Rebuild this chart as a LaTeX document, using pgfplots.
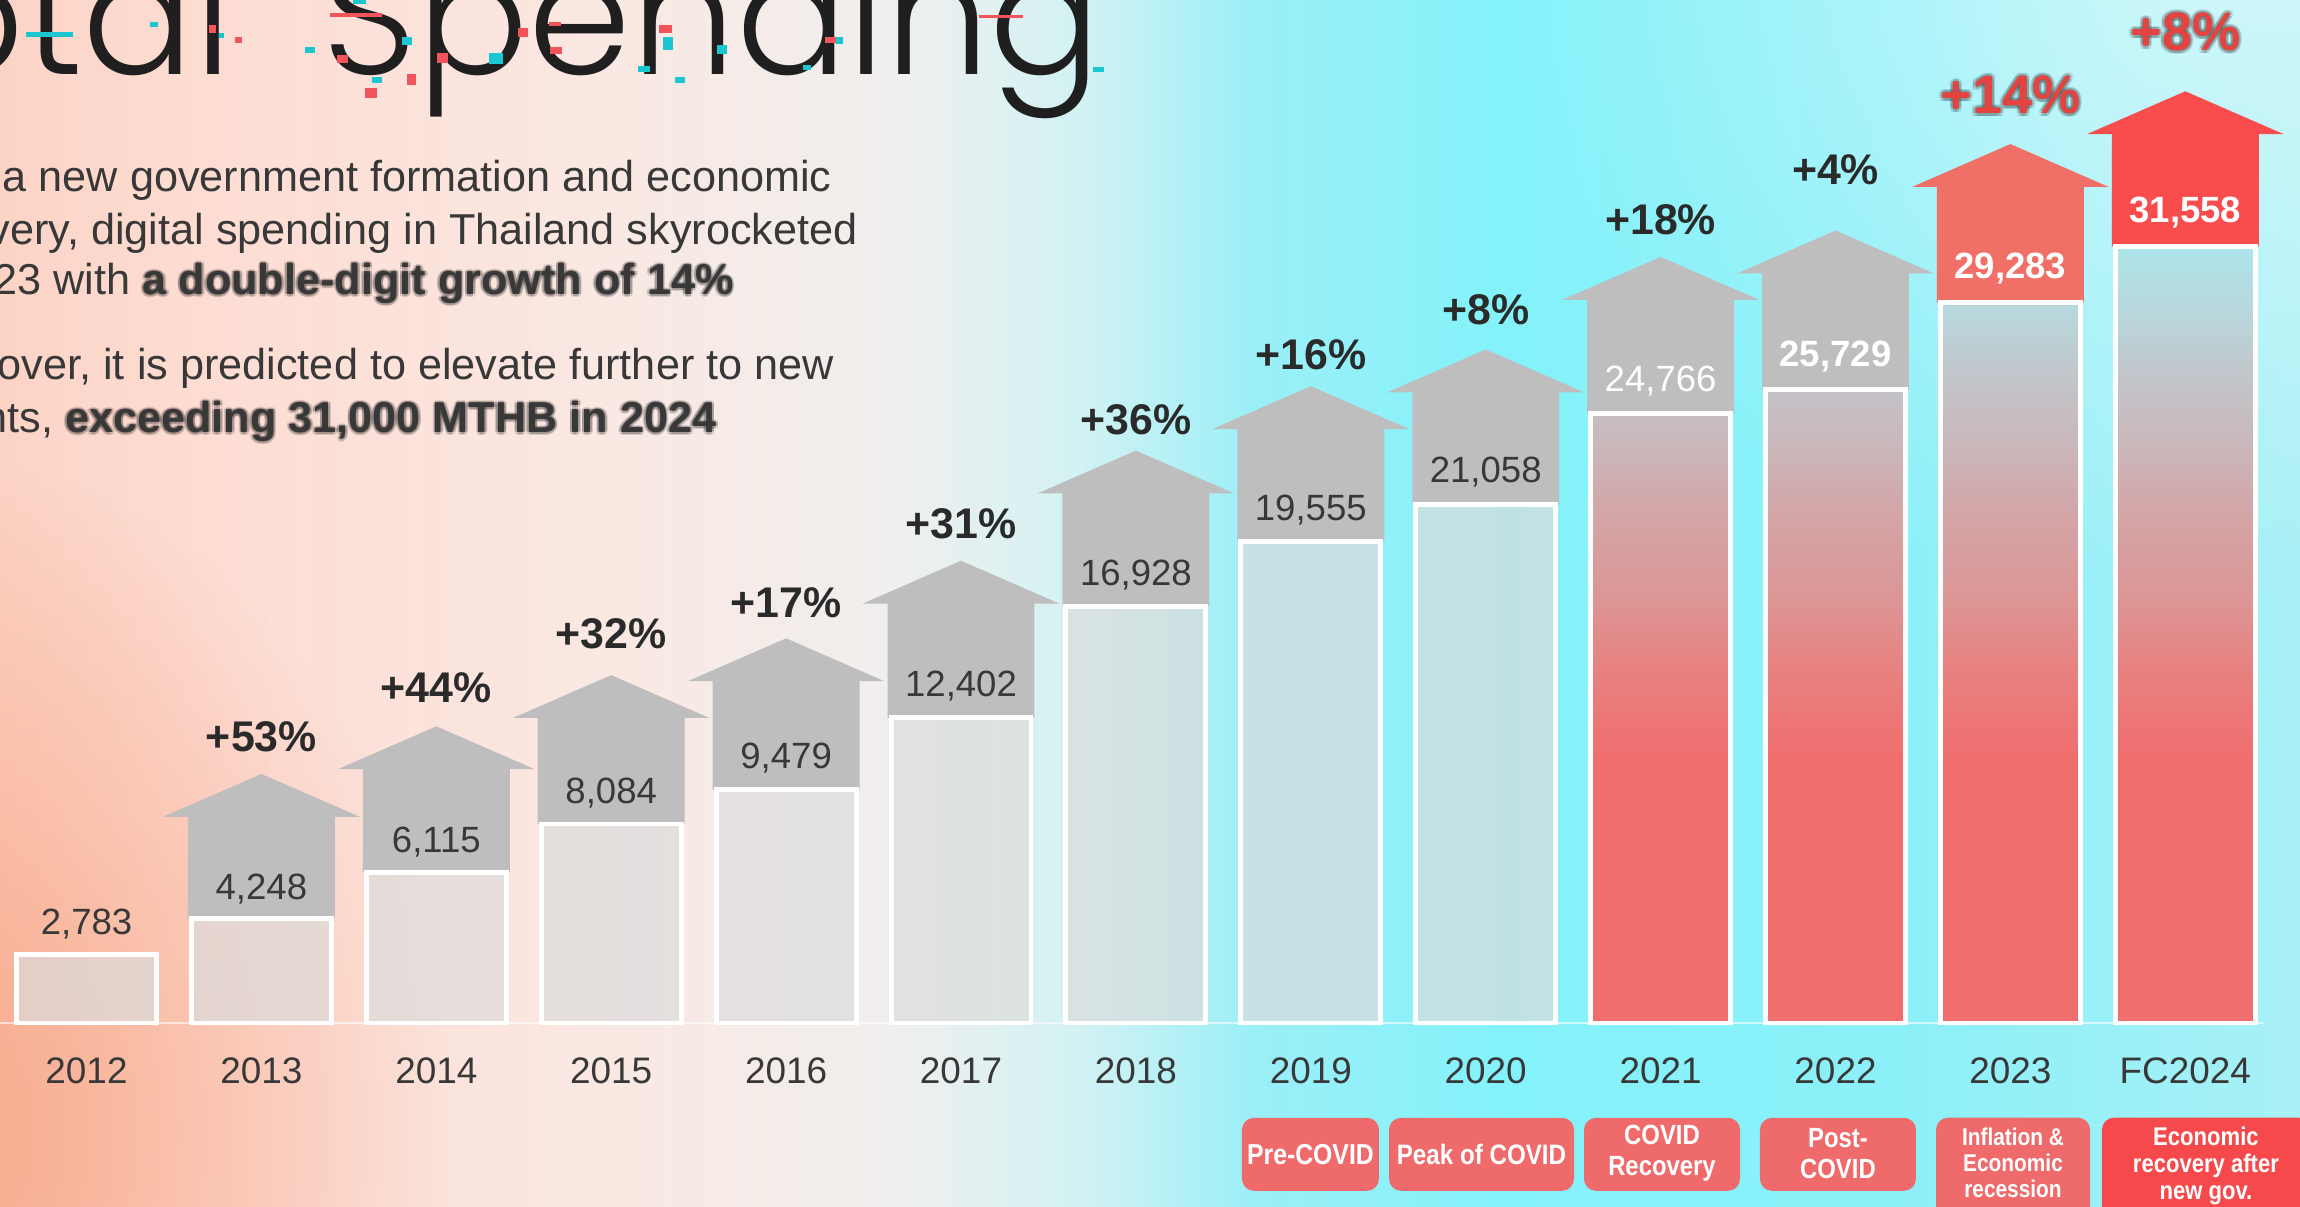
\documentclass[border=0pt]{standalone}
\usepackage{fontspec}
\setmainfont{Liberation Sans}
\newfontfamily\titlefont{Poppins Light}
\newfontfamily\narrowfont{Liberation Sans}[FakeStretch=0.86]
\usepackage{pgfplots}
\pgfplotsset{compat=1.18}
\usetikzlibrary{fadings}

\definecolor{arrowgray}{HTML}{BEBEBE}
\definecolor{arrowred}{HTML}{F07068}
\definecolor{arrowred2}{HTML}{F94C4C}
\definecolor{barfill}{HTML}{DCDCDC}
\definecolor{txt}{HTML}{383838}
\definecolor{pcttxt}{HTML}{2A2A2A}
\definecolor{redpct}{HTML}{E5433F}
\definecolor{boxred}{HTML}{EF6B6B}
\definecolor{boxred2}{HTML}{F5494B}
\definecolor{glitchc}{HTML}{1CC6D0}
\definecolor{glitchr}{HTML}{F2545B}
\definecolor{bgA}{HTML}{FCD4C6}
\definecolor{bgB}{HTML}{FDDED5}
\definecolor{bgC}{HTML}{FAE8E2}
\definecolor{bgD}{HTML}{F0EFEE}
\definecolor{bgE}{HTML}{D2F2F4}
\definecolor{bgF}{HTML}{9CEFF7}
\definecolor{bgG}{HTML}{84F2FA}
\definecolor{bgH}{HTML}{8CF0F8}
\definecolor{bgI}{HTML}{A8F0F6}
\definecolor{bgOr}{HTML}{F7A07E}
\definecolor{rb0}{HTML}{F06E6E}
\definecolor{rb1}{HTML}{E8807F}
\definecolor{rb2}{HTML}{DC9696}
\definecolor{rb3}{HTML}{D4A4A6}
\definecolor{rb4}{HTML}{C9B8BC}
\definecolor{rb5}{HTML}{C3C3C8}
\definecolor{rb6}{HTML}{BAD4D9}
\definecolor{rb7}{HTML}{ADE5EA}

\pgfdeclarehorizontalshading{bgshade}{100bp}{color(0bp)=(bgA); color(25bp)=(bgA); color(30.43bp)=(bgB); color(38bp)=(bgC); color(44.5bp)=(bgD); color(48.5bp)=(bgE); color(52.2bp)=(bgF); color(57.61bp)=(bgG); color(66.3bp)=(bgH); color(75bp)=(bgI); color(100bp)=(bgI)}
\pgfdeclareverticalshading{redbar}{100bp}{color(0bp)=(rb0); color(25bp)=(rb0); color(42bp)=(rb0); color(47.5bp)=(rb1); color(52.5bp)=(rb2); color(57.5bp)=(rb3); color(62.5bp)=(rb4); color(66bp)=(rb5); color(70bp)=(rb6); color(75bp)=(rb7); color(100bp)=(rb7)}
\tikzfading[name=radfade, inner color=transparent!0, outer color=transparent!100]

\tikzset{
  val/.style={font=\fontsize{10.4}{12}\selectfont, text=txt, inner sep=0},
  valw/.style={font=\fontsize{10.4}{12}\selectfont, text=white, inner sep=0},
  valwb/.style={font=\bfseries\fontsize{10.4}{12}\selectfont, text=white, inner sep=0},
  pct/.style={font=\bfseries\fontsize{12.2}{14}\selectfont, text=pcttxt, inner sep=0},
  rpct/.style={font=\bfseries\fontsize{15.4}{17}\selectfont, text=redpct, inner sep=0},
  yr/.style={font=\fontsize{10.5}{12}\selectfont, text=txt, inner sep=0},
  box/.style={rounded corners=1.2mm, inner sep=0, draw=none},
  btxt/.style={text=white, align=center, inner sep=0},
  para/.style={font=\fontsize{12.3}{15}\selectfont, text=txt, inner sep=0, anchor=base west},
  parab/.style={font=\bfseries\fontsize{12.3}{15}\selectfont, text=txt, inner sep=0, anchor=base west},
}

\begin{document}
\begin{tikzpicture}
\path[use as bounding box, clip] (0,0) rectangle (230mm,120.7mm);
% background
\shade[shading=bgshade] (0,0) rectangle (230mm,120.7mm);
\fill[bgOr, path fading=radfade, fill opacity=0.85] (-60mm,-60mm) rectangle (45mm,75mm);
\fill[white, path fading=radfade, fill opacity=0.5] (150mm,60mm) rectangle (290mm,190mm);

\begin{scope}[x=0.1mm, y=-0.1mm, yshift=120.7mm]
  % title
  \node[anchor=base east, inner sep=0, text=black!88, font=\titlefont\fontsize{47}{48}\selectfont] at (233,75) {Total};
  \node[anchor=base west, inner sep=0, text=black!88, font=\titlefont\fontsize{47}{48}\selectfont] at (322,75) {Spending};
  % glitch marks
  \foreach \a/\b/\c/\d in {26/32/73/37, 150/22/158/27, 219/33/224/38, 353/0/366/4, 305/47/315/53, 402/37/412/45, 372/77/382/83, 489/53/503/64, 663/37/673/50, 638/66/650/72, 675/77/685/83, 717/45/727/54, 836/37/843/44, 803/65/811/70, 1093/67/1104/72}
    {\fill[glitchc] (\a,\b) rectangle (\c,\d);}
  \foreach \a/\b/\c/\d in {209/25/216/33, 235/37/242/43, 330/13/382/17, 337/55/348/63, 407/74/416/85, 365/88/377/98, 437/53/448/63, 518/28/528/37, 549/22/561/26, 550/47/562/54, 659/25/672/33, 825/37/836/43, 979/15/1023/18}
    {\fill[glitchr] (\a,\b) rectangle (\c,\d);}
  % paragraph
  \node[para] at (2,192) {a new government formation and economic};
  \node[para] at (-12,245) {very, digital spending in Thailand skyrocketed};
  \node[para] at (-7,295) {23 with};
  \node[para] at (-3,380) {over, it is predicted to elevate further to new};
  \node[para] at (-17,433) {nts,};
  \foreach \dx/\dy in {-2.5/0, 2.5/0, 0/-2.5, 0/2.5, -1.8/-1.8, 1.8/1.8, -1.8/1.8, 1.8/-1.8}{
    \node[parab, text=black, text opacity=0.13] at (142+\dx,295+\dy) {a double-digit growth of 14\%};
    \node[parab, text=black, text opacity=0.13] at (64.5+\dx,433+\dy) {exceeding 31,000 MTHB in 2024};
  }
  \node[parab] at (142,295) {a double-digit growth of 14\%};
  \node[parab] at (64.5,433) {exceeding 31,000 MTHB in 2024};
\end{scope}

\begin{axis}[at={(0,0)}, anchor=south west, scale only axis, width=230mm, height=120.7mm,
  xmin=-0.49457, xmax=12.6558, ymin=-7476.6, ymax=41568.5, hide axis, clip=false]

% baseline
\addplot[draw=white, draw opacity=0.6, line width=0.6pt, mark=none, forget plot] coordinates {(-0.5,0) (12.45,0)};

% arrows
\foreach \i/\v/\b/\c in {1/4248/4130/arrowgray,2/6115/4200/arrowgray,3/8084/4310/arrowgray,4/9479/4410/arrowgray,5/12402/4640/arrowgray,6/16928/4590/arrowgray,7/19555/4580/arrowgray,8/21058/4570/arrowgray,9/24766/4620/arrowgray,10/25729/4730/arrowgray,11/29283/4690/arrowred,12/31558/4560/arrowred2}{
  \pgfmathsetmacro\xa{\i-0.42}
  \pgfmathsetmacro\xb{\i+0.42}
  \pgfmathsetmacro\xc{\i-0.562}
  \pgfmathsetmacro\xd{\i+0.562}
  \edef\ys{\the\numexpr\v+\b\relax}
  \edef\yt{\the\numexpr\v+\b+1740\relax}
  \edef\temp{\noexpand\addplot[draw=none,fill=\c,mark=none,forget plot] coordinates {(\xa,\v) (\xa,\ys) (\xc,\ys) (\i,\yt) (\xd,\ys) (\xb,\ys) (\xb,\v)};}
  \temp
}

% bars
\addplot[ybar, bar shift=0pt, bar width=0.8, draw=white, line width=1.4pt, fill=barfill, fill opacity=0.7, mark=none, forget plot]
  coordinates {(0,2783) (1,4248) (2,6115) (3,8084) (4,9479) (5,12402) (6,16928) (7,19555) (8,21058)};
\addplot[ybar, bar shift=0pt, bar width=0.8, draw=white, line width=1.4pt, shade, shading=redbar, mark=none, forget plot]
  coordinates {(9,24766) (10,25729) (11,29283) (12,31558)};

% value labels
\node[val] at (axis cs:0,4023) {2,783};
\node[val] at (axis cs:1,5454) {4,248};
\node[val] at (axis cs:2,7361) {6,115};
\node[val] at (axis cs:3,9328) {8,084};
\node[val] at (axis cs:4,10758) {9,479};
\node[val] at (axis cs:5,13679) {12,402};
\node[val] at (axis cs:6,18209) {16,928};
\node[val] at (axis cs:7,20831) {19,555};
\node[val] at (axis cs:8,22381) {21,058};
\node[valw] at (axis cs:9,26076) {24,766};
\node[valwb] at (axis cs:10,27089) {25,729};
\node[valwb] at (axis cs:11,30665) {29,283};
\node[valwb] at (axis cs:12,32930) {31,558};

% growth labels
\node[pct] at (axis cs:1,11650) {+53\%};
\node[pct] at (axis cs:2,13617) {+44\%};
\node[pct] at (axis cs:3,15822) {+32\%};
\node[pct] at (axis cs:4,17073) {+17\%};
\node[pct] at (axis cs:5,20292) {+31\%};
\node[pct] at (axis cs:6,24523) {+36\%};
\node[pct] at (axis cs:7,27146) {+16\%};
\node[pct] at (axis cs:8,28993) {+8\%};
\node[pct] at (axis cs:9,32629) {+18\%};
\node[pct] at (axis cs:10,34655) {+4\%};

% year labels
\node[yr] at (axis cs:0,-1937) {2012};
\node[yr] at (axis cs:1,-1937) {2013};
\node[yr] at (axis cs:2,-1937) {2014};
\node[yr] at (axis cs:3,-1937) {2015};
\node[yr] at (axis cs:4,-1937) {2016};
\node[yr] at (axis cs:5,-1937) {2017};
\node[yr] at (axis cs:6,-1937) {2018};
\node[yr] at (axis cs:7,-1937) {2019};
\node[yr] at (axis cs:8,-1937) {2020};
\node[yr] at (axis cs:9,-1937) {2021};
\node[yr] at (axis cs:10,-1937) {2022};
\node[yr] at (axis cs:11,-1937) {2023};
\node[yr] at (axis cs:12,-1937) {FC2024};

% annotation boxes
\node[box, fill=boxred, minimum width=13.7mm, minimum height=7.3mm] at (axis cs:6.998,-5337) {};
\node[box, fill=boxred, minimum width=18.5mm, minimum height=7.3mm] at (axis cs:7.976,-5337) {};
\node[box, fill=boxred, minimum width=15.6mm, minimum height=7.3mm] at (axis cs:9.008,-5337) {};
\node[box, fill=boxred, minimum width=15.6mm, minimum height=7.3mm] at (axis cs:10.014,-5337) {};
\node[box, fill=boxred, minimum width=15.4mm, minimum height=12mm] at (axis cs:11.015,-6286) {};
\node[box, fill=boxred2, minimum width=20.8mm, minimum height=12mm] at (axis cs:12.118,-6286) {};
\node[btxt, font=\narrowfont\bfseries\fontsize{8.2}{9}\selectfont] at (axis cs:6.998,-5339) {Pre-COVID};
\node[btxt, font=\narrowfont\bfseries\fontsize{8}{9}\selectfont] at (axis cs:7.976,-5339) {Peak of COVID};
\node[btxt, font=\narrowfont\bfseries\fontsize{7.9}{8.8}\selectfont] at (axis cs:9.008,-5300) {COVID\\Recovery};
\node[btxt, font=\narrowfont\bfseries\fontsize{7.9}{8.8}\selectfont] at (axis cs:10.014,-5320) {Post-\\COVID};
\node[btxt, font=\narrowfont\bfseries\fontsize{6.9}{7.4}\selectfont] at (axis cs:11.015,-5697) {Inflation \&\\Economic\\recession};
\node[btxt, font=\narrowfont\bfseries\fontsize{7.3}{7.6}\selectfont] at (axis cs:12.118,-5815) {Economic\\recovery after\\new gov.};
\end{axis}

% red growth labels with glow
\begin{scope}[x=0.1mm, y=-0.1mm, yshift=120.7mm]
  \foreach \dx/\dy in {-3/0, 3/0, 0/-3, 0/3, -2.1/-2.1, 2.1/2.1, -2.1/2.1, 2.1/-2.1}{
    \node[rpct, text=black, text opacity=0.12] at (2010.4+\dx,95.3+\dy) {+14\%};
    \node[rpct, text=black, text opacity=0.12] at (2185.3+\dx,32.3+\dy) {+8\%};
  }
  \node[rpct] at (2010.4,95.3) {+14\%};
  \node[rpct] at (2185.3,32.3) {+8\%};
\end{scope}
\end{tikzpicture}
\end{document}
